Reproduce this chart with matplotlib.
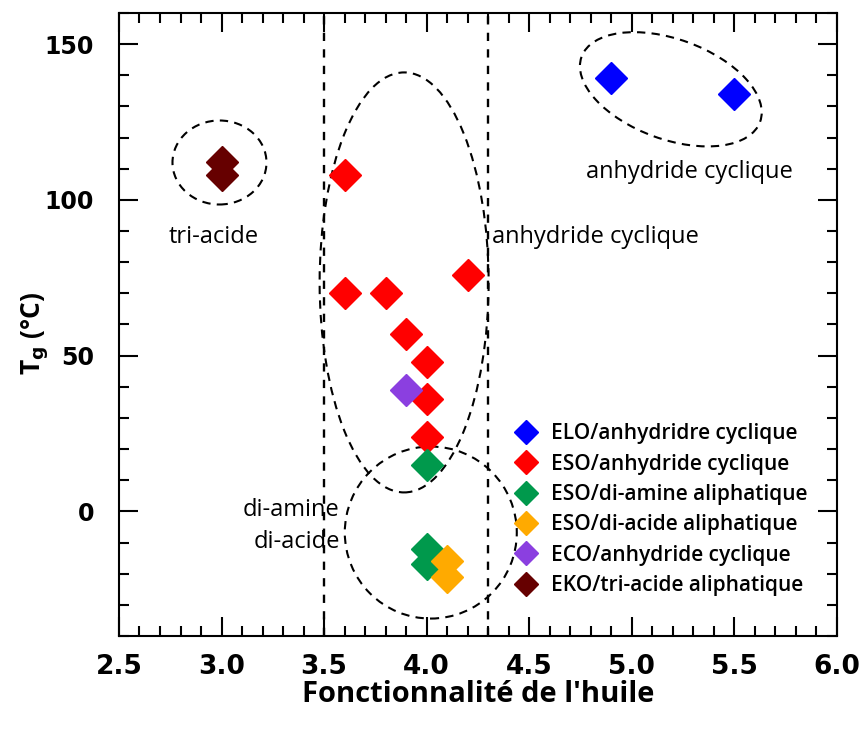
import matplotlib
matplotlib.use("Agg")
import matplotlib.pyplot as plt
from matplotlib.patches import Ellipse
from matplotlib.transforms import ScaledTranslation
from matplotlib.ticker import MultipleLocator, FormatStrFormatter

# data: (functionality, Tg) per system
elo_x = [4.9, 5.5]
elo_y = [139, 134]
eso_anh_x = [3.6, 3.6, 3.8, 4.2, 3.9, 4.0, 4.0, 4.0]
eso_anh_y = [108, 70, 70, 76, 57, 48, 36, 24]
eso_amine_x = [4.0, 4.0, 4.0]
eso_amine_y = [15, -12, -17]
eso_acide_x = [4.1, 4.1]
eso_acide_y = [-16, -21]
eco_x = [3.9]
eco_y = [39]
eko_x = [3.0, 3.0]
eko_y = [112, 108]

series = [
    (elo_x, elo_y, "#0000ff", "ELO/anhydridre cyclique"),
    (eso_anh_x, eso_anh_y, "#ff0000", "ESO/anhydride cyclique"),
    (eso_amine_x, eso_amine_y, "#00994c", "ESO/di-amine aliphatique"),
    (eso_acide_x, eso_acide_y, "#ffaa00", "ESO/di-acide aliphatique"),
    (eco_x, eco_y, "#8b3fe0", "ECO/anhydride cyclique"),
    (eko_x, eko_y, "#660000", "EKO/tri-acide aliphatique"),
]

# dashed groupings: centre (data), width/height (inches), angle
groups = [
    (2.99, 112, 0.94, 0.84, 0),
    (3.89, 73.5, 1.69, 4.20, 0),
    (4.02, -6.8, 1.72, 1.72, 0),
    (5.19, 135.5, 1.90, 1.00, -20),
]
vlines = [3.5, 4.3]

label_font = ["Open Sans", "DejaVu Sans"]

fig = plt.figure(figsize=(8.62, 7.29), dpi=100)
ax = fig.add_axes([0.138, 0.1276, 0.833, 0.8546])

for x, y, c, lab in series:
    ax.plot(x, y, "D", color=c, ms=16.5, mec=c, ls="none", label=lab, zorder=3)

for v in vlines:
    ax.axvline(v, color="black", ls=(0, (3.5, 3.5)), lw=1.7, zorder=1)

for cx, cy, w, h, a in groups:
    e = Ellipse((0, 0), w, h, angle=a, fill=False, ls=(0, (4, 3)), lw=1.5,
                ec="black",
                transform=fig.dpi_scale_trans + ScaledTranslation(cx, cy, ax.transData))
    ax.add_patch(e)

tkw = dict(fontsize=17, family=label_font)
ax.text(2.96, 88, "tri-acide", ha="center", va="center", **tkw)
ax.text(4.32, 88, "anhydride cyclique", ha="left", va="center", **tkw)
ax.text(5.28, 109, "anhydride cyclique", ha="center", va="center", **tkw)
ax.text(3.575, 0.6, "di-amine", ha="right", va="center", **tkw)
ax.text(3.58, -9.7, "di-acide", ha="right", va="center", **tkw)

ax.xaxis.set_major_locator(MultipleLocator(0.5))
ax.xaxis.set_minor_locator(MultipleLocator(0.1))
ax.xaxis.set_major_formatter(FormatStrFormatter("%.1f"))
ax.yaxis.set_major_locator(MultipleLocator(50))
ax.yaxis.set_minor_locator(MultipleLocator(10))
ax.set_xlim(2.5, 6.0)
ax.set_ylim(-40, 160)
ax.tick_params(which="both", direction="in", top=True, right=True, width=1.5)
ax.tick_params(which="major", length=14)
ax.tick_params(axis="x", which="major", pad=13)
ax.tick_params(axis="y", which="major", pad=18)
ax.tick_params(which="minor", length=7)
for s in ax.spines.values():
    s.set_linewidth(1.5)
for t in ax.get_xticklabels():
    t.set_fontweight("bold")
    t.set_fontsize(19)
for t in ax.get_yticklabels():
    t.set_fontweight("bold")
    t.set_fontsize(17)

ax.set_xlabel("Fonctionnalité de l'huile", fontsize=21, fontweight="bold",
              family=label_font, labelpad=0)
ax.set_ylabel(r"T$_\mathbf{g}$ (°C)", fontsize=19, fontweight="bold",
              family=label_font)
ax.yaxis.set_label_coords(-0.095, 0.486)

ax.legend(loc="lower right", bbox_to_anchor=(0.985, 0.034), frameon=False,
          markerscale=0.75, handletextpad=0.2, labelspacing=0.45,
          prop={"family": label_font, "size": 15, "weight": "semibold"})

fig.savefig("out.png", dpi=100)
